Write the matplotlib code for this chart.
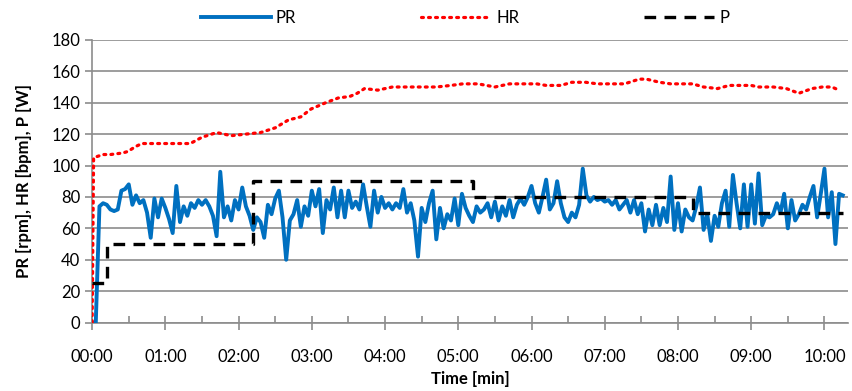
import matplotlib.pyplot as plt
import numpy as np

# PR [rpm], one reading every 3 s
pr = [0, 0, 74, 76, 75, 72, 71, 72, 84, 85, 88, 75, 81, 76, 78, 70, 54, 79, 67, 79,
      73, 66, 57, 87, 64, 74, 68, 76, 73, 78, 75, 78, 74, 68, 55,
      96, 67, 74, 65, 78, 72, 86, 74, 68, 59, 67, 64, 54, 75, 69, 79, 84, 67, 40,
      65, 69, 78, 61, 74, 68, 84, 74, 85, 57, 78, 72, 86, 67, 84,
      67, 84, 73, 77, 72, 88, 74, 61, 84, 70, 80, 73, 76, 72, 76, 73, 85, 70, 76,
      65, 42, 73, 64, 76, 84, 53, 73, 60, 69, 65, 79, 62, 82, 73, 68,
      64, 74, 70, 72, 76, 67, 77, 65, 74, 68, 78, 67, 75, 79, 75, 80, 87, 76, 70,
      80, 91, 72, 76, 90, 76, 67, 64, 70, 67, 75, 98, 81, 77, 80, 78,
      79, 77, 78, 75, 78, 72, 75, 78, 70, 78, 69, 76, 58, 72, 62, 75, 62, 73, 64,
      93, 59, 76, 58, 72, 67, 65, 74, 86, 59, 69, 52, 68, 61, 76,
      84, 61, 94, 76, 60, 88, 61, 88, 63, 95, 62, 68, 67, 69, 76, 70, 82, 60, 78,
      65, 69, 75, 72, 80, 87, 67, 82, 98, 67, 83, 50, 82, 81]
pr_t = np.arange(len(pr)) * 3 / 60.0

# HR [bpm]
hr_t = [0, 0.02, 0.15, 0.25, 0.42, 0.49, 0.59, 0.68, 1.0, 1.34, 1.5, 1.7, 1.9, 2.1,
        2.3, 2.5, 2.68, 2.85, 2.99, 3.19, 3.36, 3.52, 3.62, 3.72, 3.9, 4.1, 4.3,
        4.5, 4.7, 4.9, 5.06, 5.27, 5.5, 5.7, 5.9, 6.07, 6.2, 6.4, 6.55, 6.74, 6.9,
        7.1, 7.27, 7.47, 7.57, 7.75, 7.9, 8.05, 8.2, 8.35, 8.54, 8.7, 8.85, 9.0,
        9.1, 9.3, 9.48, 9.65, 9.83, 9.97, 10.1, 10.2]
hr = [0, 105, 107, 107, 108, 109, 112, 114, 114, 114, 118, 121, 119, 120,
      121, 124, 129, 131, 136, 140, 143, 144, 146, 149, 148, 150, 150,
      150, 150, 151, 152, 152, 150, 152, 152, 152, 151, 151, 153, 153, 152,
      152, 152, 155, 155, 153, 152, 152, 152, 150, 149, 151, 151, 151,
      150, 150, 149, 146, 149, 150, 150, 148]

# P [W], step profile
p_t = [0, 0.2, 2.2, 5.2, 8.2, 10.25]
p = [25, 50, 90, 80, 70]

xlabels = ['%02d:00' % m for m in range(11)]

plt.rcParams['font.family'] = ['Lato', 'DejaVu Sans']
fig = plt.figure(figsize=(8.53, 3.91), dpi=100)
ax = fig.add_axes([0.108, 0.175, 0.886, 0.723])

grid_c = '#8c8c8c'
ax.plot(pr_t, pr, color='#0070C0', lw=2.8, label='PR', zorder=3)
ax.plot(hr_t, hr, color='#FF0000', lw=2.3, ls=(0, (0.6, 1.6)), label='HR',
        dash_capstyle='round', zorder=4)
ax.plot(p_t, p + [p[-1]], color='black', lw=2.4, ls=(0, (3.5, 2.5)),
        drawstyle='steps-post', label='P', zorder=5)

ax.set_xlim(0, 10.32)
ax.set_ylim(0, 180)
ax.set_yticks(range(0, 181, 20))
ax.set_xticks(range(11))
ax.set_xticklabels(xlabels)
ax.set_xticks(np.arange(0.5, 10.4, 1), minor=True)
ax.grid(axis='y', color=grid_c, lw=1.2)
ax.set_axisbelow(True)
for s in ['top', 'right']:
    ax.spines[s].set_visible(False)
for s in ['left', 'bottom']:
    ax.spines[s].set_color(grid_c)
    ax.spines[s].set_linewidth(1.2)
ax.tick_params(axis='y', colors=grid_c, length=5, width=1.2, labelcolor='black',
               labelsize=12)
ax.tick_params(axis='x', which='major', direction='inout', length=10, width=1.2,
               colors=grid_c, labelcolor='black', labelsize=12, pad=14)
ax.tick_params(axis='x', which='minor', direction='in', length=5, width=1.2,
               colors=grid_c)

ax.set_xlabel('Time [min]', fontsize=12, fontweight='bold', labelpad=4)
ax.set_ylabel('PR [rpm], HR [bpm], P [W]', fontsize=12, fontweight='bold', labelpad=14)

fig.legend(loc='center', bbox_to_anchor=(0.545, 0.955), ncol=3, frameon=False,
           fontsize=12, handlelength=4.2, columnspacing=7.5, handletextpad=0.3)

fig.savefig('out.png', dpi=100)
